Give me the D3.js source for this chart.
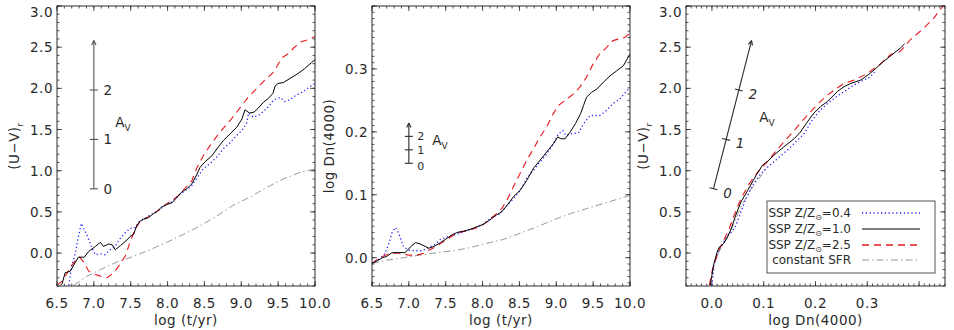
<!DOCTYPE html>
<html>
<head>
<meta charset="utf-8">
<script src="https://cdn.jsdelivr.net/npm/d3@7"></script>
<style>
  body { margin: 0; background: #fff; }
  svg { display: block; font-family: "DejaVu Sans", sans-serif; }
</style>
</head>
<body>
<div id="chart"></div>
<script>
// ---- data ----
// panel 1: log(t/yr) vs (U-V)_r
const uvZ04 = [[6.66,-0.39],[6.70,-0.15],[6.75,0.0],[6.79,0.2],[6.83,0.36],[6.91,0.21],[6.97,0.07],[7.02,-0.02],[7.09,-0.01],[7.15,-0.02],[7.22,0.04],[7.29,0.08],[7.36,0.18],[7.43,0.25],[7.49,0.3],[7.56,0.31],[7.62,0.39],[7.67,0.41],[7.76,0.46],[7.83,0.49],[7.9,0.53],[7.99,0.6],[8.06,0.62],[8.15,0.7],[8.24,0.76],[8.33,0.82],[8.42,0.94],[8.49,1.03],[8.58,1.09],[8.67,1.17],[8.76,1.27],[8.85,1.34],[8.94,1.43],[9.01,1.49],[9.07,1.57],[9.1,1.70],[9.16,1.65],[9.23,1.67],[9.3,1.72],[9.37,1.78],[9.44,1.86],[9.53,1.89],[9.59,1.84],[9.66,1.86],[9.75,1.92],[9.84,1.96],[9.93,2.02],[10.0,2.06]];
const uvZ10 = [[6.55,-0.39],[6.57,-0.37],[6.61,-0.24],[6.68,-0.22],[6.75,-0.11],[6.79,-0.05],[6.87,-0.05],[6.93,0.02],[7.02,0.08],[7.09,0.13],[7.13,0.08],[7.2,0.11],[7.25,0.1],[7.29,0.04],[7.36,0.09],[7.45,0.16],[7.49,0.2],[7.54,0.23],[7.58,0.33],[7.63,0.39],[7.67,0.41],[7.74,0.43],[7.81,0.48],[7.85,0.5],[7.92,0.56],[7.99,0.59],[8.06,0.61],[8.13,0.68],[8.19,0.74],[8.26,0.78],[8.33,0.84],[8.4,0.96],[8.44,1.04],[8.51,1.11],[8.6,1.18],[8.69,1.29],[8.76,1.37],[8.85,1.45],[8.94,1.53],[9.01,1.63],[9.05,1.74],[9.11,1.70],[9.17,1.71],[9.23,1.76],[9.3,1.83],[9.37,1.88],[9.43,1.94],[9.46,2.03],[9.5,2.06],[9.57,2.07],[9.66,2.12],[9.77,2.18],[9.86,2.24],[9.95,2.31],[10.0,2.35]];
const uvZ25 = [[6.5,-0.39],[6.57,-0.34],[6.64,-0.24],[6.70,-0.15],[6.77,-0.07],[6.81,-0.05],[6.86,-0.11],[6.93,-0.22],[7.02,-0.26],[7.09,-0.28],[7.18,-0.30],[7.27,-0.24],[7.36,-0.13],[7.43,-0.03],[7.49,0.13],[7.56,0.29],[7.63,0.39],[7.72,0.43],[7.81,0.48],[7.9,0.53],[7.99,0.6],[8.06,0.64],[8.15,0.70],[8.24,0.79],[8.33,0.88],[8.40,1.04],[8.49,1.19],[8.58,1.31],[8.71,1.47],[8.85,1.61],[8.98,1.76],[9.1,1.9],[9.21,2.0],[9.32,2.1],[9.44,2.2],[9.55,2.37],[9.62,2.41],[9.71,2.49],[9.82,2.57],[9.91,2.59],[10.0,2.63]];
const uvCsfr = [[6.73,-0.39],[6.91,-0.28],[7.09,-0.2],[7.31,-0.11],[7.54,-0.04],[7.76,0.04],[7.99,0.13],[8.22,0.23],[8.44,0.33],[8.67,0.45],[8.89,0.58],[9.12,0.68],[9.35,0.8],[9.57,0.9],[9.8,0.98],[10.0,1.02]];

// panel 2: log(t/yr) vs log Dn(4000)
const dnZ04 = [[6.5,-0.01],[6.61,-0.001],[6.68,0.007],[6.73,0.023],[6.77,0.039],[6.82,0.048],[6.86,0.039],[6.93,0.017],[7.0,0.012],[7.09,0.011],[7.18,0.011],[7.25,0.015],[7.34,0.02],[7.43,0.029],[7.52,0.033],[7.61,0.036],[7.7,0.039],[7.79,0.043],[7.88,0.046],[7.95,0.05],[8.01,0.053],[8.08,0.06],[8.15,0.066],[8.22,0.069],[8.28,0.076],[8.35,0.085],[8.42,0.094],[8.51,0.107],[8.6,0.126],[8.69,0.139],[8.78,0.152],[8.87,0.165],[8.96,0.181],[9.03,0.197],[9.09,0.202],[9.13,0.194],[9.21,0.197],[9.3,0.198],[9.37,0.213],[9.46,0.226],[9.53,0.226],[9.59,0.226],[9.68,0.234],[9.77,0.245],[9.86,0.252],[10.0,0.271]];
const dnZ10 = [[6.5,-0.009],[6.57,-0.005],[6.64,0.0],[6.7,0.002],[6.77,0.008],[6.86,0.008],[6.95,0.008],[7.02,0.017],[7.09,0.024],[7.15,0.022],[7.22,0.018],[7.27,0.015],[7.34,0.018],[7.43,0.024],[7.52,0.031],[7.58,0.036],[7.65,0.04],[7.74,0.042],[7.83,0.045],[7.92,0.049],[8.01,0.053],[8.1,0.06],[8.19,0.068],[8.26,0.073],[8.33,0.083],[8.42,0.097],[8.51,0.107],[8.6,0.123],[8.69,0.142],[8.78,0.155],[8.87,0.168],[8.96,0.181],[9.02,0.192],[9.06,0.189],[9.12,0.189],[9.19,0.2],[9.26,0.213],[9.33,0.229],[9.37,0.242],[9.41,0.255],[9.48,0.263],[9.55,0.268],[9.64,0.279],[9.73,0.289],[9.82,0.297],[9.91,0.305],[10.0,0.324]];
const dnZ25 = [[6.5,-0.009],[6.59,-0.001],[6.68,0.004],[6.77,0.007],[6.88,0.007],[7.0,0.004],[7.11,0.004],[7.2,0.007],[7.27,0.012],[7.36,0.017],[7.45,0.024],[7.54,0.031],[7.61,0.036],[7.67,0.04],[7.79,0.043],[7.9,0.047],[8.01,0.053],[8.1,0.061],[8.19,0.07],[8.26,0.078],[8.33,0.091],[8.42,0.113],[8.51,0.134],[8.6,0.155],[8.69,0.173],[8.78,0.192],[8.87,0.208],[8.96,0.229],[9.03,0.242],[9.12,0.25],[9.23,0.26],[9.32,0.271],[9.41,0.287],[9.5,0.308],[9.59,0.324],[9.68,0.334],[9.77,0.345],[9.86,0.348],[9.93,0.35],[10.0,0.357]];
const dnCsfr = [[6.5,-0.009],[6.7,-0.004],[6.93,0.0],[7.15,0.004],[7.38,0.008],[7.61,0.011],[7.83,0.016],[8.06,0.023],[8.28,0.029],[8.51,0.039],[8.74,0.049],[8.96,0.06],[9.19,0.07],[9.41,0.078],[9.64,0.086],[9.86,0.094],[10.0,0.099]];

// panel 3: log Dn(4000) vs (U-V)_r
const ddZ04 = [[0.0,-0.39],[0.004,-0.15],[0.011,0.01],[0.019,0.09],[0.027,0.19],[0.037,0.25],[0.046,0.33],[0.056,0.5],[0.066,0.66],[0.078,0.82],[0.094,0.96],[0.107,1.04],[0.127,1.15],[0.146,1.25],[0.165,1.37],[0.178,1.45],[0.191,1.59],[0.204,1.7],[0.22,1.8],[0.236,1.88],[0.255,1.96],[0.274,2.04],[0.293,2.1],[0.306,2.14],[0.314,2.2]];
const ddZ10 = [[-0.003,-0.39],[0.003,-0.15],[0.01,0.01],[0.014,0.07],[0.022,0.11],[0.029,0.18],[0.037,0.29],[0.046,0.46],[0.056,0.62],[0.069,0.76],[0.085,0.94],[0.098,1.07],[0.107,1.11],[0.12,1.19],[0.139,1.29],[0.159,1.39],[0.171,1.47],[0.184,1.59],[0.197,1.7],[0.21,1.78],[0.223,1.84],[0.242,1.96],[0.255,2.02],[0.268,2.06],[0.287,2.1],[0.303,2.17],[0.316,2.24],[0.332,2.33],[0.348,2.41],[0.364,2.49],[0.372,2.54]];
const ddZ25 = [[-0.005,-0.39],[0.001,-0.2],[0.008,-0.07],[0.016,0.07],[0.024,0.17],[0.033,0.29],[0.043,0.46],[0.056,0.66],[0.072,0.84],[0.088,0.98],[0.104,1.09],[0.12,1.21],[0.139,1.35],[0.159,1.49],[0.178,1.63],[0.197,1.76],[0.216,1.88],[0.236,1.98],[0.255,2.06],[0.274,2.1],[0.3,2.18],[0.326,2.3],[0.345,2.41],[0.364,2.45],[0.383,2.59],[0.409,2.73],[0.428,2.85],[0.449,3.02]];
const ddCsfr = [[0.01,-0.03],[0.024,0.13],[0.04,0.33],[0.056,0.56],[0.072,0.74],[0.088,0.88],[0.104,1.02]];

// tick labels
const ageTicks = ["6.5","7.0","7.5","8.0","8.5","9.0","9.5","10.0"];
const uvTicks = ["0.0","0.5","1.0","1.5","2.0","2.5","3.0"];
const dnTicks = ["0.0","0.1","0.2","0.3"];

// A_V reddening vectors: origin [x, y] and shift per magnitude of A_V
const avOrigin = [[7.0, 0.78], [7.0, 0.15], [0.003, 0.78]];
const avStep = [[0, 0.6], [0, 0.0214], [0.0245, 0.6]];
const avLabels = ["0", "1", "2"];

const legendLabels = ["0.4", "1.0", "2.5"];

// ---- layout ----
const width = 954, height = 330;
const plotTop = 6, plotBottom = 286;
const ink = "#2a2a2a";
const fontSize = 13.5, spacing = 0.5;

const styles = {
    z04: {stroke: "#1e1eff", dash: "1.2,2.6", width: 1.3},
    z10: {stroke: "#000", dash: null, width: 1},
    z25: {stroke: "#e81820", dash: "7,5", width: 1.1},
    csfr: {stroke: "#999", dash: "7,3,1.5,3", width: 1}
};

const panels = [
    {left: 57, right: 315, x: [6.5, 10], y: [-0.4, 3.0],
     xMajor: d3.range(6.5, 10.01, 0.5), xMinor: d3.range(6.5, 10.01, 0.1), xLabels: ageTicks,
     yMajor: d3.range(0, 3.01, 0.5), yMinor: d3.range(-0.4, 3.01, 0.1), yLabels: uvTicks,
     xTitle: "log (t/yr)", yTitle: "uv",
     series: [[uvCsfr, "csfr"], [uvZ04, "z04"], [uvZ25, "z25"], [uvZ10, "z10"]]},
    {left: 372, right: 630, x: [6.5, 10], y: [-0.045, 0.40],
     xMajor: d3.range(6.5, 10.01, 0.5), xMinor: d3.range(6.5, 10.01, 0.1), xLabels: ageTicks,
     yMajor: d3.range(0, 0.401, 0.1), yMinor: d3.range(-0.04, 0.401, 0.01), yLabels: dnTicks,
     xTitle: "log (t/yr)", yTitle: "log Dn(4000)",
     series: [[dnCsfr, "csfr"], [dnZ04, "z04"], [dnZ25, "z25"], [dnZ10, "z10"]]},
    {left: 686, right: 945, x: [-0.05, 0.45], y: [-0.4, 3.0],
     xMajor: d3.range(0, 0.401, 0.1), xMinor: d3.range(-0.05, 0.451, 0.01), xLabels: dnTicks,
     yMajor: d3.range(0, 3.01, 0.5), yMinor: d3.range(-0.4, 3.01, 0.1), yLabels: uvTicks,
     xTitle: "log Dn(4000)", yTitle: "uv",
     series: [[ddCsfr, "csfr"], [ddZ04, "z04"], [ddZ25, "z25"], [ddZ10, "z10"]]}
];

const svg = d3.select("#chart").append("svg")
    .attr("width", width).attr("height", height);

panels.forEach((p, pi) => {
    const x = d3.scaleLinear().domain(p.x).range([p.left, p.right]);
    const y = d3.scaleLinear().domain(p.y).range([plotBottom, plotTop]);
    const g = svg.append("g");

    // clip for curves
    const clipId = "clip" + pi;
    svg.append("clipPath").attr("id", clipId)
        .append("rect").attr("x", p.left).attr("y", plotTop)
        .attr("width", p.right - p.left).attr("height", plotBottom - plotTop);

    // ticks on all four sides, pointing inward
    const tickG = g.append("g").attr("stroke", ink).attr("stroke-width", 0.8);
    const drawX = (vals, len) => vals.forEach(v => {
        const xx = x(v);
        tickG.append("line").attr("x1", xx).attr("x2", xx).attr("y1", plotBottom).attr("y2", plotBottom - len);
        tickG.append("line").attr("x1", xx).attr("x2", xx).attr("y1", plotTop).attr("y2", plotTop + len);
    });
    const drawY = (vals, len) => vals.forEach(v => {
        const yy = y(v);
        tickG.append("line").attr("y1", yy).attr("y2", yy).attr("x1", p.left).attr("x2", p.left + len);
        tickG.append("line").attr("y1", yy).attr("y2", yy).attr("x1", p.right).attr("x2", p.right - len);
    });
    drawX(p.xMinor, 2.5); drawX(p.xMajor, 5);
    drawY(p.yMinor, 2.5); drawY(p.yMajor, 5);

    // curves
    const line = d3.line().x(d => x(d[0])).y(d => y(d[1]));
    const curves = g.append("g").attr("clip-path", `url(#${clipId})`);
    p.series.forEach(([data, key]) => {
        const s = styles[key];
        curves.append("path").datum(data)
            .attr("d", line).attr("fill", "none")
            .attr("stroke", s.stroke).attr("stroke-width", s.width)
            .attr("stroke-dasharray", s.dash);
    });

    // frame
    g.append("rect").attr("x", p.left).attr("y", plotTop)
        .attr("width", p.right - p.left).attr("height", plotBottom - plotTop)
        .attr("fill", "none").attr("stroke", ink).attr("stroke-width", 1);

    // tick labels (top label pushed down so it stays on the page)
    p.xLabels.forEach(t => {
        g.append("text").attr("x", x(+t)).attr("y", 308)
            .attr("text-anchor", "middle").attr("font-size", fontSize)
            .attr("letter-spacing", spacing).attr("fill", ink).text(t);
    });
    p.yLabels.forEach(t => {
        g.append("text").attr("x", p.left - 4).attr("y", Math.max(y(+t) + 5, 17))
            .attr("text-anchor", "end").attr("font-size", fontSize)
            .attr("letter-spacing", spacing).attr("fill", ink).text(t);
    });

    // axis titles
    g.append("text").attr("x", (p.left + p.right) / 2).attr("y", 325)
        .attr("text-anchor", "middle").attr("font-size", fontSize)
        .attr("letter-spacing", spacing).attr("fill", ink).text(p.xTitle);
    const yt = g.append("text")
        .attr("transform", `translate(${p.left - 38},${(plotTop + plotBottom) / 2}) rotate(-90)`)
        .attr("text-anchor", "middle").attr("font-size", fontSize)
        .attr("letter-spacing", spacing).attr("fill", ink);
    if (p.yTitle === "uv") {
        yt.append("tspan").text("(U\u2212V)");
        yt.append("tspan").attr("font-size", 9).attr("dy", 4).text("r");
    } else {
        yt.text(p.yTitle);
    }

    // A_V vector
    const o = avOrigin[pi], st = avStep[pi];
    const pt = k => [x(o[0] + k * st[0]), y(o[1] + k * st[1])];
    const p0 = pt(0), p3 = pt(3);
    const ang = Math.atan2(p3[1] - p0[1], p3[0] - p0[0]);
    const av = g.append("g").attr("stroke", pi === 0 ? "#555" : ink).attr("stroke-width", 1.1).attr("fill", "none");
    av.append("line").attr("x1", p0[0]).attr("y1", p0[1]).attr("x2", p3[0]).attr("y2", p3[1]);
    [ang + 2.7, ang - 2.7].forEach(a => {
        av.append("line").attr("x1", p3[0]).attr("y1", p3[1])
            .attr("x2", p3[0] + 5 * Math.cos(a)).attr("y2", p3[1] + 5 * Math.sin(a));
    });
    const perp = ang + Math.PI / 2;
    const labSize = pi === 1 ? 11 : fontSize;
    avLabels.forEach((lab, k) => {
        const q = pt(k);
        av.append("line")
            .attr("x1", q[0] - 4 * Math.cos(perp)).attr("y1", q[1] - 4 * Math.sin(perp))
            .attr("x2", q[0] + 4 * Math.cos(perp)).attr("y2", q[1] + 4 * Math.sin(perp));
        const off = pi === 2 ? [14, 9] : (pi === 1 ? [12, k === 0 ? 7 : 4] : [14, 5]);
        g.append("text").attr("x", q[0] + off[0]).attr("y", q[1] + off[1])
            .attr("text-anchor", "middle").attr("font-size", labSize).attr("fill", ink)
            .attr("font-style", pi === 2 ? "italic" : null).text(lab);
    });
    const avPos = [[123, 127], [440, 145], [767, 122]][pi];
    const avText = g.append("text").attr("x", avPos[0]).attr("y", avPos[1])
        .attr("text-anchor", "middle").attr("font-size", fontSize).attr("fill", ink);
    avText.append("tspan").text("A");
    avText.append("tspan").attr("font-size", 9).attr("dy", 4).text("V");
});

// ---- legend (panel 3) ----
const legend = svg.append("g");
legend.append("rect").attr("x", 767).attr("y", 201).attr("width", 168).attr("height", 72)
    .attr("fill", "#fff").attr("stroke", "#555").attr("stroke-width", 1);
const rows = [["z04", 213], ["z10", 229], ["z25", 245], ["csfr", 260]];
rows.forEach(([key, yy], i) => {
    const s = styles[key];
    const t = legend.append("text").attr("x", 851).attr("y", yy + 4)
        .attr("text-anchor", "end").attr("font-size", 12).attr("fill", ink);
    if (i < 3) {
        t.append("tspan").text("SSP Z/Z");
        t.append("tspan").attr("font-size", 8).attr("dy", 3).text("\u2299");
        t.append("tspan").attr("dy", -3).text("=" + legendLabels[i]);
    } else {
        t.text("constant SFR");
    }
    legend.append("line").attr("x1", 862).attr("x2", 920).attr("y1", yy).attr("y2", yy)
        .attr("stroke", key === "z10" ? "#555" : (key === "csfr" ? "#bbb" : s.stroke))
        .attr("stroke-width", key === "z10" ? 1.6 : s.width + 0.3)
        .attr("stroke-dasharray", s.dash);
});
</script>
</body>
</html>
